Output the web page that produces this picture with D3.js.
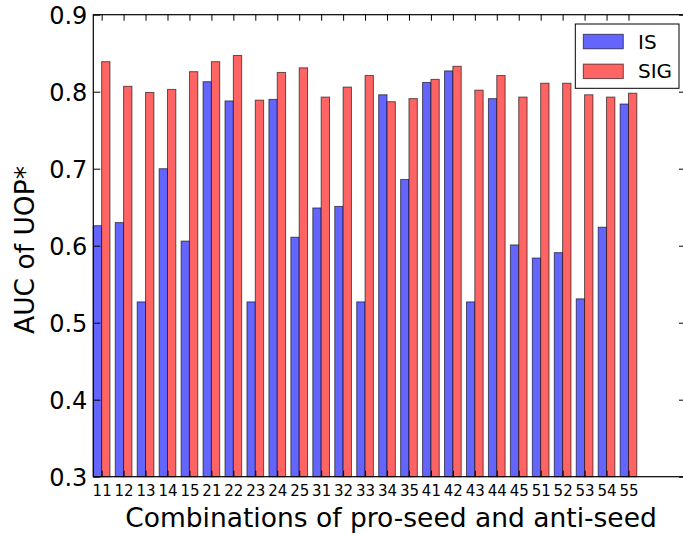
<!DOCTYPE html>
<html><head><meta charset="utf-8">
<script src="https://cdn.jsdelivr.net/npm/d3@7"></script>
<style>body{margin:0;background:#fff}svg{display:block}text{font-family:"DejaVu Sans",sans-serif;fill:#000}</style>
</head><body>
<svg id="c" width="683" height="535"></svg>
<script>
const categories = ["11","12","13","14","15","21","22","23","24","25","31","32","33","34","35","41","42","43","44","45","51","52","53","54","55"];
const isValues  = [0.626,0.630,0.527,0.700,0.606,0.813,0.788,0.527,0.790,0.611,0.649,0.651,0.527,0.796,0.686,0.812,0.827,0.527,0.791,0.601,0.584,0.591,0.531,0.624,0.784];
const sigValues = [0.839,0.807,0.799,0.803,0.826,0.839,0.847,0.789,0.825,0.831,0.793,0.806,0.821,0.787,0.791,0.816,0.833,0.802,0.821,0.793,0.811,0.811,0.796,0.793,0.798];
const seriesNames = ["IS","SIG"];
const yTicks = [0.3,0.4,0.5,0.6,0.7,0.8,0.9];

const W = 0.38;
const svg = d3.select("#c");
const L = 93.3, T = 14.7, B = 476.7, R = 686;
const x = d3.scaleLinear().domain([0, 27]).range([L, R]);
const y = d3.scaleLinear().domain([0.3, 0.9]).range([B, T]);
const colors = ["#6464ff", "#ff6464"];

const g = svg.append("g");
const series = [isValues, sigValues];
series.forEach((vals, s) => {
  g.selectAll(null).data(vals).enter().append("rect")
    .attr("x", (d, i) => x(i + s * W))
    .attr("width", x(W) - x(0))
    .attr("y", d => y(d))
    .attr("height", d => y(0.3) - y(d))
    .attr("fill", colors[s])
    .attr("stroke", "rgba(0,0,0,0.6)")
    .attr("stroke-width", 1);
});

// frame
svg.append("rect").attr("x", L).attr("y", T).attr("width", R - L).attr("height", B - T)
  .attr("fill", "none").attr("stroke", "#000").attr("stroke-width", 1.2);

// y axis
const yAxis = d3.axisLeft(y).tickValues(yTicks).tickFormat(d3.format(".1f")).tickSizeInner(-7).tickSizeOuter(0).tickPadding(6);
const ya = svg.append("g").attr("transform", `translate(${L},0)`).call(yAxis);
ya.select(".domain").remove();
ya.selectAll("text").style("font-size", "24px").attr("font-family", "DejaVu Sans").attr("dy", "0.36em");
const yR = d3.axisRight(y).tickValues(yTicks).tickFormat("").tickSizeInner(-7).tickSizeOuter(0);
const yr = svg.append("g").attr("transform", `translate(${R},0)`).call(yR);
yr.select(".domain").remove();

// x axis
const tickPos = categories.map((c, i) => i + W);
const xAxis = d3.axisBottom(x).tickValues(tickPos).tickFormat((d, i) => categories[i]).tickSizeInner(-6).tickSizeOuter(0).tickPadding(8.4);
const xa = svg.append("g").attr("transform", `translate(0,${B})`).call(xAxis);
xa.select(".domain").remove();
xa.selectAll("text").style("font-size", "15px").attr("font-family", "DejaVu Sans");
const xT = d3.axisTop(x).tickValues(tickPos).tickFormat("").tickSizeInner(-6).tickSizeOuter(0);
const xt = svg.append("g").attr("transform", `translate(0,${T})`).call(xT);
xt.select(".domain").remove();

// labels
svg.append("text").attr("x", 391).attr("y", 527).attr("text-anchor", "middle")
  .style("font-size", "26.5px").text("Combinations of pro-seed and anti-seed");
svg.append("text").attr("transform", "translate(34,250) rotate(-90)").attr("text-anchor", "middle")
  .style("font-size", "26.5px").text("AUC of UOP*");

// legend
const lg = svg.append("g");
lg.append("rect").attr("x", 575.3).attr("y", 24).attr("width", 103.7).attr("height", 64.3)
  .attr("fill", "#fff").attr("stroke", "#000").attr("stroke-width", 1);
seriesNames.forEach((n, i) => {
  lg.append("rect").attr("x", 583.3).attr("y", 34.3 + i * 29.8).attr("width", 40).attr("height", 14.5)
    .attr("fill", colors[i]).attr("stroke", "rgba(0,0,0,0.6)");
  lg.append("text").attr("x", 638).attr("y", 48.5 + i * 29.8).style("font-size", "20px").text(n);
});
</script>
</body></html>
